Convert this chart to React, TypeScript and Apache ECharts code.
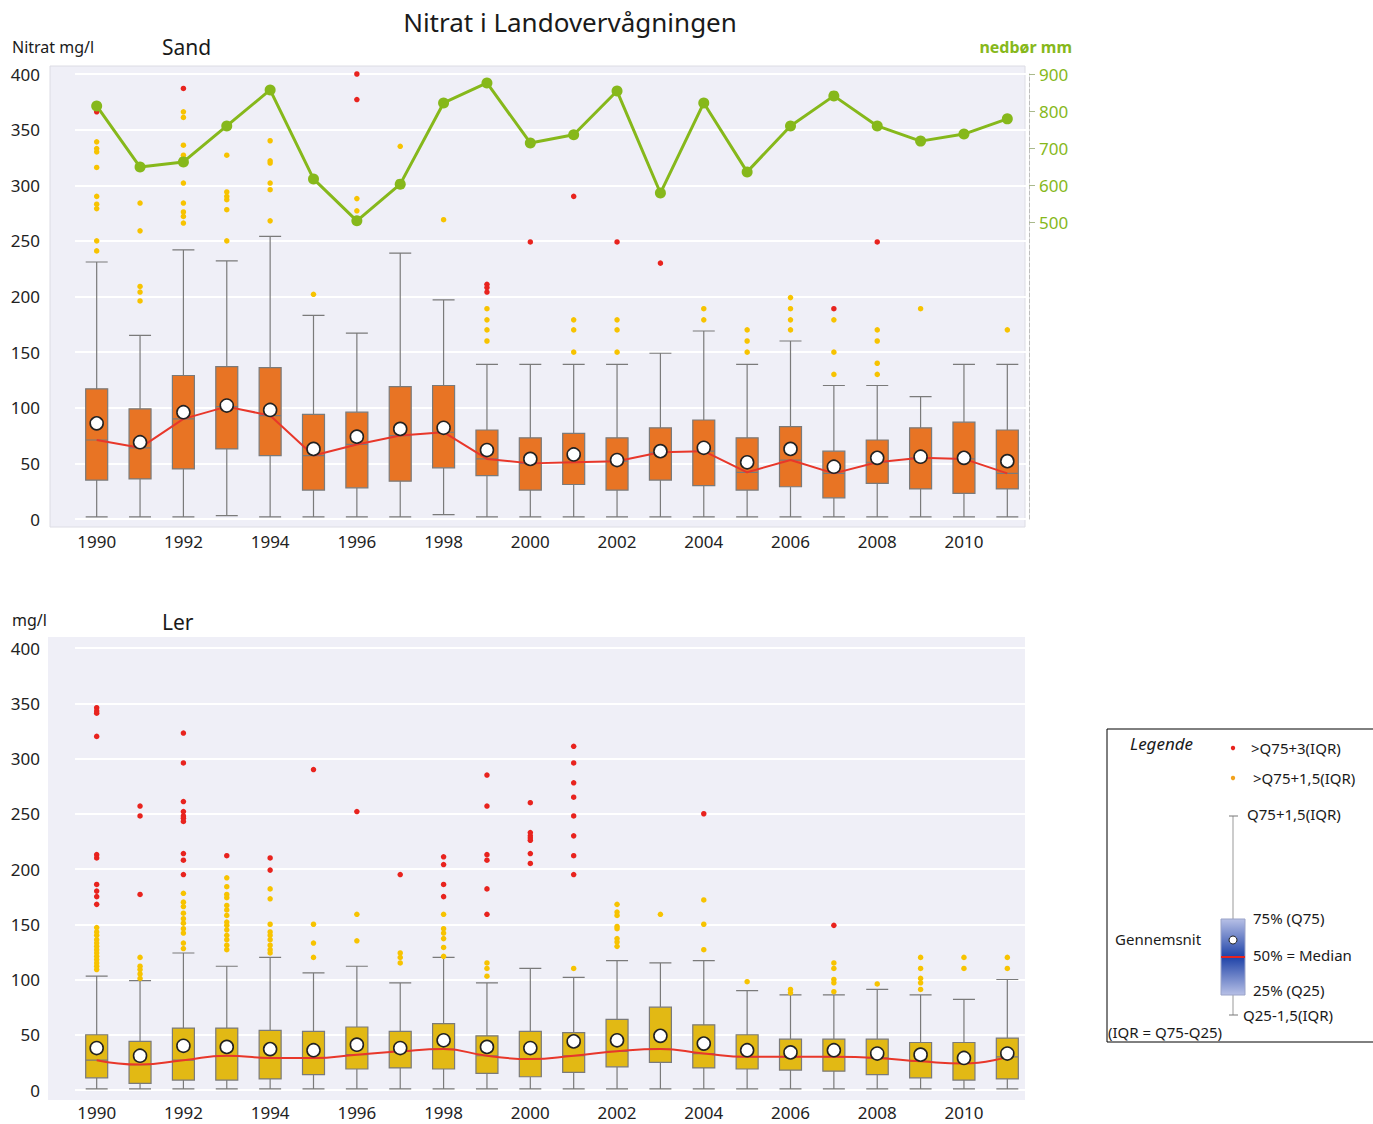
import React, { useEffect, useRef } from "react";
import * as echarts from "echarts";

const years = ["1990","1991","1992","1993","1994","1995","1996","1997","1998","1999","2000","2001","2002","2003","2004","2005","2006","2007","2008","2009","2010","2011"];

// Sand: [low whisker, Q25, median, Q75, high whisker]
const sandBox = [
  [2, 35, 71, 117, 231], [2, 36, 64, 99, 165], [2, 45, 90, 129, 242], [3, 63, 101, 137, 232],
  [2, 57, 93, 136, 254], [2, 26, 57, 94, 183], [2, 28, 67, 96, 167], [2, 34, 75, 119, 239],
  [4, 46, 78, 120, 197], [2, 39, 54, 80, 139], [2, 26, 50, 73, 139], [2, 31, 51, 77, 139],
  [2, 26, 52, 73, 139], [2, 35, 60, 82, 149], [2, 30, 61, 89, 169], [2, 26, 42, 73, 139],
  [2, 29, 53, 83, 160], [2, 19, 41, 61, 120], [2, 32, 51, 71, 120], [2, 27, 55, 82, 110],
  [2, 23, 54, 87, 139], [2, 27, 41, 80, 139]
];
const sandMean = [86, 69, 96, 102, 98, 63, 74, 81, 82, 62, 54, 58, 53, 61, 64, 51, 63, 47, 55, 56, 55, 52];
const sandYellow = [
  [339, 333, 330, 316, 290, 283, 279, 250, 241],
  [284, 259, 209, 204, 196],
  [366, 361, 336, 327, 302, 284, 276, 272, 266],
  [327, 294, 290, 287, 278, 250],
  [340, 322, 320, 302, 296, 268],
  [202], [288, 277], [335], [269],
  [189, 179, 170, 160], [], [179, 170, 150], [179, 170, 150], [],
  [189, 179], [170, 160, 150], [199, 189, 179, 170], [179, 150, 130],
  [170, 160, 140, 130], [189], [], [170]
];
const sandRed = [
  [366], [], [387], [], [], [], [400, 377], [], [], [211, 208, 204], [249], [290], [249], [230],
  [], [], [], [189], [249], [], [], []
];
const precip = [814, 649, 663, 760, 857, 617, 504, 603, 822, 876, 714, 736, 854, 579, 822, 636, 760, 841, 760, 719, 738, 779];
const precipTicks = [500, 600, 700, 800, 900];

// Ler
const lerBox = [
  [1, 11, 27, 50, 103], [1, 6, 23, 44, 99], [1, 9, 27, 56, 124], [1, 9, 31, 56, 112],
  [1, 10, 29, 54, 120], [1, 14, 29, 53, 106], [1, 19, 32, 57, 112], [1, 20, 35, 53, 97],
  [1, 19, 37, 60, 120], [1, 15, 31, 49, 97], [1, 12, 28, 53, 110], [1, 16, 31, 52, 102],
  [1, 21, 35, 64, 117], [1, 25, 37, 75, 115], [1, 20, 33, 59, 117], [1, 19, 30, 50, 90],
  [1, 18, 30, 46, 86], [1, 17, 30, 46, 86], [1, 14, 29, 46, 91], [1, 11, 26, 43, 86],
  [1, 9, 24, 43, 82], [1, 10, 30, 47, 100]
];
const lerMean = [38, 31, 40, 39, 37, 36, 41, 38, 45, 39, 38, 44, 45, 49, 42, 36, 34, 36, 33, 32, 29, 33];
const lerYellow = [
  [147, 143, 140, 136, 133, 130, 127, 124, 121, 118, 115, 112, 109],
  [120, 112, 109, 105, 101],
  [178, 170, 166, 160, 155, 151, 146, 142, 133, 128],
  [192, 184, 177, 174, 167, 163, 158, 152, 149, 145, 140, 136, 131, 127],
  [182, 173, 150, 143, 140, 136, 131, 127, 124],
  [150, 133, 120], [159, 135], [124, 120, 115],
  [159, 146, 142, 137, 129, 121], [115, 110, 103], [], [110],
  [168, 161, 158, 148, 146, 137, 134, 130], [159], [172, 150, 127], [98],
  [91, 88], [115, 110, 100, 97, 89], [96], [120, 110, 101, 97, 91], [120, 110], [120, 110]
];
const lerRed = [
  [346, 343, 341, 320, 213, 210, 186, 180, 175, 168],
  [257, 248, 177],
  [323, 296, 261, 252, 248, 246, 243, 214, 208, 195],
  [212], [210, 199], [290], [252], [195], [211, 204, 186, 175],
  [285, 257, 213, 208, 182, 159],
  [260, 233, 230, 228, 226, 214, 205],
  [311, 296, 278, 265, 248, 230, 212, 195],
  [], [], [250], [], [], [149], [], [], [], []
];

const FONT = "Noto Sans";
const GREEN = "#86b81b";

function pairs(lists: number[][]) {
  const out: (string | number)[][] = [];
  lists.forEach((vals, i) => vals.forEach((v) => out.push([years[i], v])));
  return out;
}

function buildOption() {
  const xAxisBase = {
    type: "category",
    data: years,
    axisLine: { show: false },
    axisTick: { show: false },
    axisLabel: { interval: 1, fontSize: 17, color: "#222", margin: 14, fontFamily: FONT },
    splitLine: { show: false },
  };
  const yAxisBase = {
    type: "value",
    min: 0,
    max: 400,
    interval: 50,
    axisLine: { show: false },
    axisTick: { show: false },
    axisLabel: { fontSize: 17, color: "#222", margin: 35, fontFamily: FONT },
    splitLine: { show: true, lineStyle: { color: "#ffffff", width: 2 } },
  };
  const boxStyle = (fill: string) => ({
    color: fill,
    borderColor: "#7a7a7a",
    borderWidth: 1.2,
  });
  const meanSeries = (xi: number, yi: number, data: number[]) => ({
    type: "scatter",
    xAxisIndex: xi,
    yAxisIndex: yi,
    data: data.map((v, i) => [years[i], v]),
    symbol: "circle",
    symbolSize: 13,
    itemStyle: { color: "#ffffff", borderColor: "#222", borderWidth: 1.6, opacity: 1 },
    z: 6,
  });
  const dots = (xi: number, yi: number, lists: number[][], color: string) => ({
    type: "scatter",
    xAxisIndex: xi,
    yAxisIndex: yi,
    data: pairs(lists),
    symbol: "circle",
    symbolSize: 5.5,
    itemStyle: { color, opacity: 1 },
    z: 3,
  });
  const medianLine = (xi: number, yi: number, box: number[][], smooth: boolean) => ({
    type: "line",
    xAxisIndex: xi,
    yAxisIndex: yi,
    data: box.map((b) => b[2]),
    showSymbol: false,
    symbol: "none",
    smooth,
    lineStyle: { color: "#e8372a", width: 2 },
    z: 5,
  });

  const t = (text: string, x: number, y: number, size: number, extra: any = {}) => ({
    type: "text",
    x,
    y,
    style: { text, fontSize: size, fontFamily: FONT, fill: "#1a1a1a", textVerticalAlign: "middle", ...extra },
    z: 10,
  });

  const graphic = [
    { type: "rect", shape: { x: 50, y: 66, width: 975, height: 461 }, style: { fill: "#efeff7", stroke: "#dcdce4", lineWidth: 1 }, z: -100, silent: true },
    { type: "rect", shape: { x: 48, y: 637, width: 977, height: 463 }, style: { fill: "#efeff7" }, z: -100, silent: true },
    t("Nitrat i Landovervågningen", 570, 22, 26, { textAlign: "center" }),
    t("Nitrat mg/l", 12, 47, 16),
    t("Sand", 162, 47, 21),
    t("nedbør mm", 1072, 47, 16, { textAlign: "right", fill: GREEN, fontWeight: "bold" }),
    t("mg/l", 12, 620, 16),
    t("Ler", 162, 622, 21),
    // legend
    { type: "rect", shape: { x: 1107, y: 729, width: 272, height: 313 }, style: { fill: "#fff", stroke: "#000", lineWidth: 1 }, z: 9 },
    t("Legende", 1130, 743, 17, { fontStyle: "italic" }),
    { type: "circle", shape: { cx: 1233, cy: 748, r: 2.2 }, style: { fill: "#e8231e" }, z: 10 },
    t(">Q75+3(IQR)", 1251, 748, 15),
    { type: "circle", shape: { cx: 1233, cy: 778, r: 2.2 }, style: { fill: "#f2a21c" }, z: 10 },
    t(">Q75+1,5(IQR)", 1253, 778, 15),
    { type: "line", shape: { x1: 1233, y1: 816, x2: 1233, y2: 1015 }, style: { stroke: "#aaa", lineWidth: 1.2 }, z: 10 },
    { type: "line", shape: { x1: 1229, y1: 816, x2: 1238, y2: 816 }, style: { stroke: "#777", lineWidth: 1 }, z: 10 },
    { type: "line", shape: { x1: 1229, y1: 1015, x2: 1238, y2: 1015 }, style: { stroke: "#777", lineWidth: 1 }, z: 10 },
    t("Q75+1,5(IQR)", 1247, 814, 15),
    {
      type: "rect",
      shape: { x: 1221, y: 919, width: 24, height: 76 },
      style: {
        fill: new echarts.graphic.LinearGradient(0, 0, 0, 1, [
          { offset: 0, color: "#b7c0e6" },
          { offset: 0.5, color: "#1f43a8" },
          { offset: 1, color: "#b7c0e6" },
        ]),
        stroke: "#9aa3c8",
        lineWidth: 1,
      },
      z: 11,
    },
    { type: "circle", shape: { cx: 1233, cy: 940, r: 4 }, style: { fill: "#fff", stroke: "#222", lineWidth: 1 }, z: 12 },
    { type: "line", shape: { x1: 1221, y1: 957, x2: 1245, y2: 957 }, style: { stroke: "#e8231e", lineWidth: 2 }, z: 12 },
    t("75% (Q75)", 1253, 918, 15),
    t("50% = Median", 1253, 955, 15),
    t("25% (Q25)", 1253, 990, 15),
    t("Q25-1,5(IQR)", 1243, 1015, 15),
    t("Gennemsnit", 1115, 939, 15),
    t("(IQR = Q75-Q25)", 1108, 1032, 15),
  ];

  return {
    animation: false,
    backgroundColor: "#ffffff",
    textStyle: { fontFamily: FONT },
    grid: [
      { left: 75, right: 344, top: 74, height: 445 },
      { left: 75, right: 344, top: 648, height: 442 },
    ],
    xAxis: [
      { ...xAxisBase, gridIndex: 0 },
      { ...xAxisBase, gridIndex: 1 },
    ],
    yAxis: [
      { ...yAxisBase, gridIndex: 0 },
      {
        type: "value",
        gridIndex: 0,
        position: "right",
        min: -300,
        max: 900,
        interval: 100,
        axisLine: { show: true, lineStyle: { color: "#bdbdbd", type: "dashed", width: 1 } },
        axisTick: { show: true, length: 6, customValues: precipTicks, lineStyle: { color: "#a9b98c" } },
        axisLabel: {
          fontSize: 17,
          color: GREEN,
          margin: 10,
          fontFamily: FONT,
          customValues: precipTicks,
        },
        splitLine: { show: false },
      },
      { ...yAxisBase, gridIndex: 1 },
    ],
    series: [
      {
        type: "boxplot",
        xAxisIndex: 0,
        yAxisIndex: 0,
        data: sandBox,
        boxWidth: [22, 22],
        itemStyle: boxStyle("#e87424"),
        z: 2,
      },
      medianLine(0, 0, sandBox, false),
      meanSeries(0, 0, sandMean),
      dots(0, 0, sandYellow, "#f7c300"),
      dots(0, 0, sandRed, "#e8231e"),
      {
        type: "line",
        xAxisIndex: 0,
        yAxisIndex: 1,
        data: precip,
        symbol: "circle",
        symbolSize: 11,
        lineStyle: { color: GREEN, width: 3 },
        itemStyle: { color: GREEN, opacity: 1 },
        z: 7,
      },
      {
        type: "boxplot",
        xAxisIndex: 1,
        yAxisIndex: 2,
        data: lerBox,
        boxWidth: [22, 22],
        itemStyle: boxStyle("#e2b914"),
        z: 2,
      },
      medianLine(1, 2, lerBox, true),
      meanSeries(1, 2, lerMean),
      dots(1, 2, lerYellow, "#f7c300"),
      dots(1, 2, lerRed, "#e8231e"),
    ],
    graphic,
  };
}

export default function App() {
  const ref = useRef<HTMLDivElement>(null);
  useEffect(() => {
    document.body.style.margin = "0";
    const chart = echarts.init(ref.current as HTMLDivElement, null, { renderer: "svg" });
    chart.setOption(buildOption() as any);
    return () => chart.dispose();
  }, []);
  return <div ref={ref} style={{ width: 1373, height: 1124 }} />;
}
